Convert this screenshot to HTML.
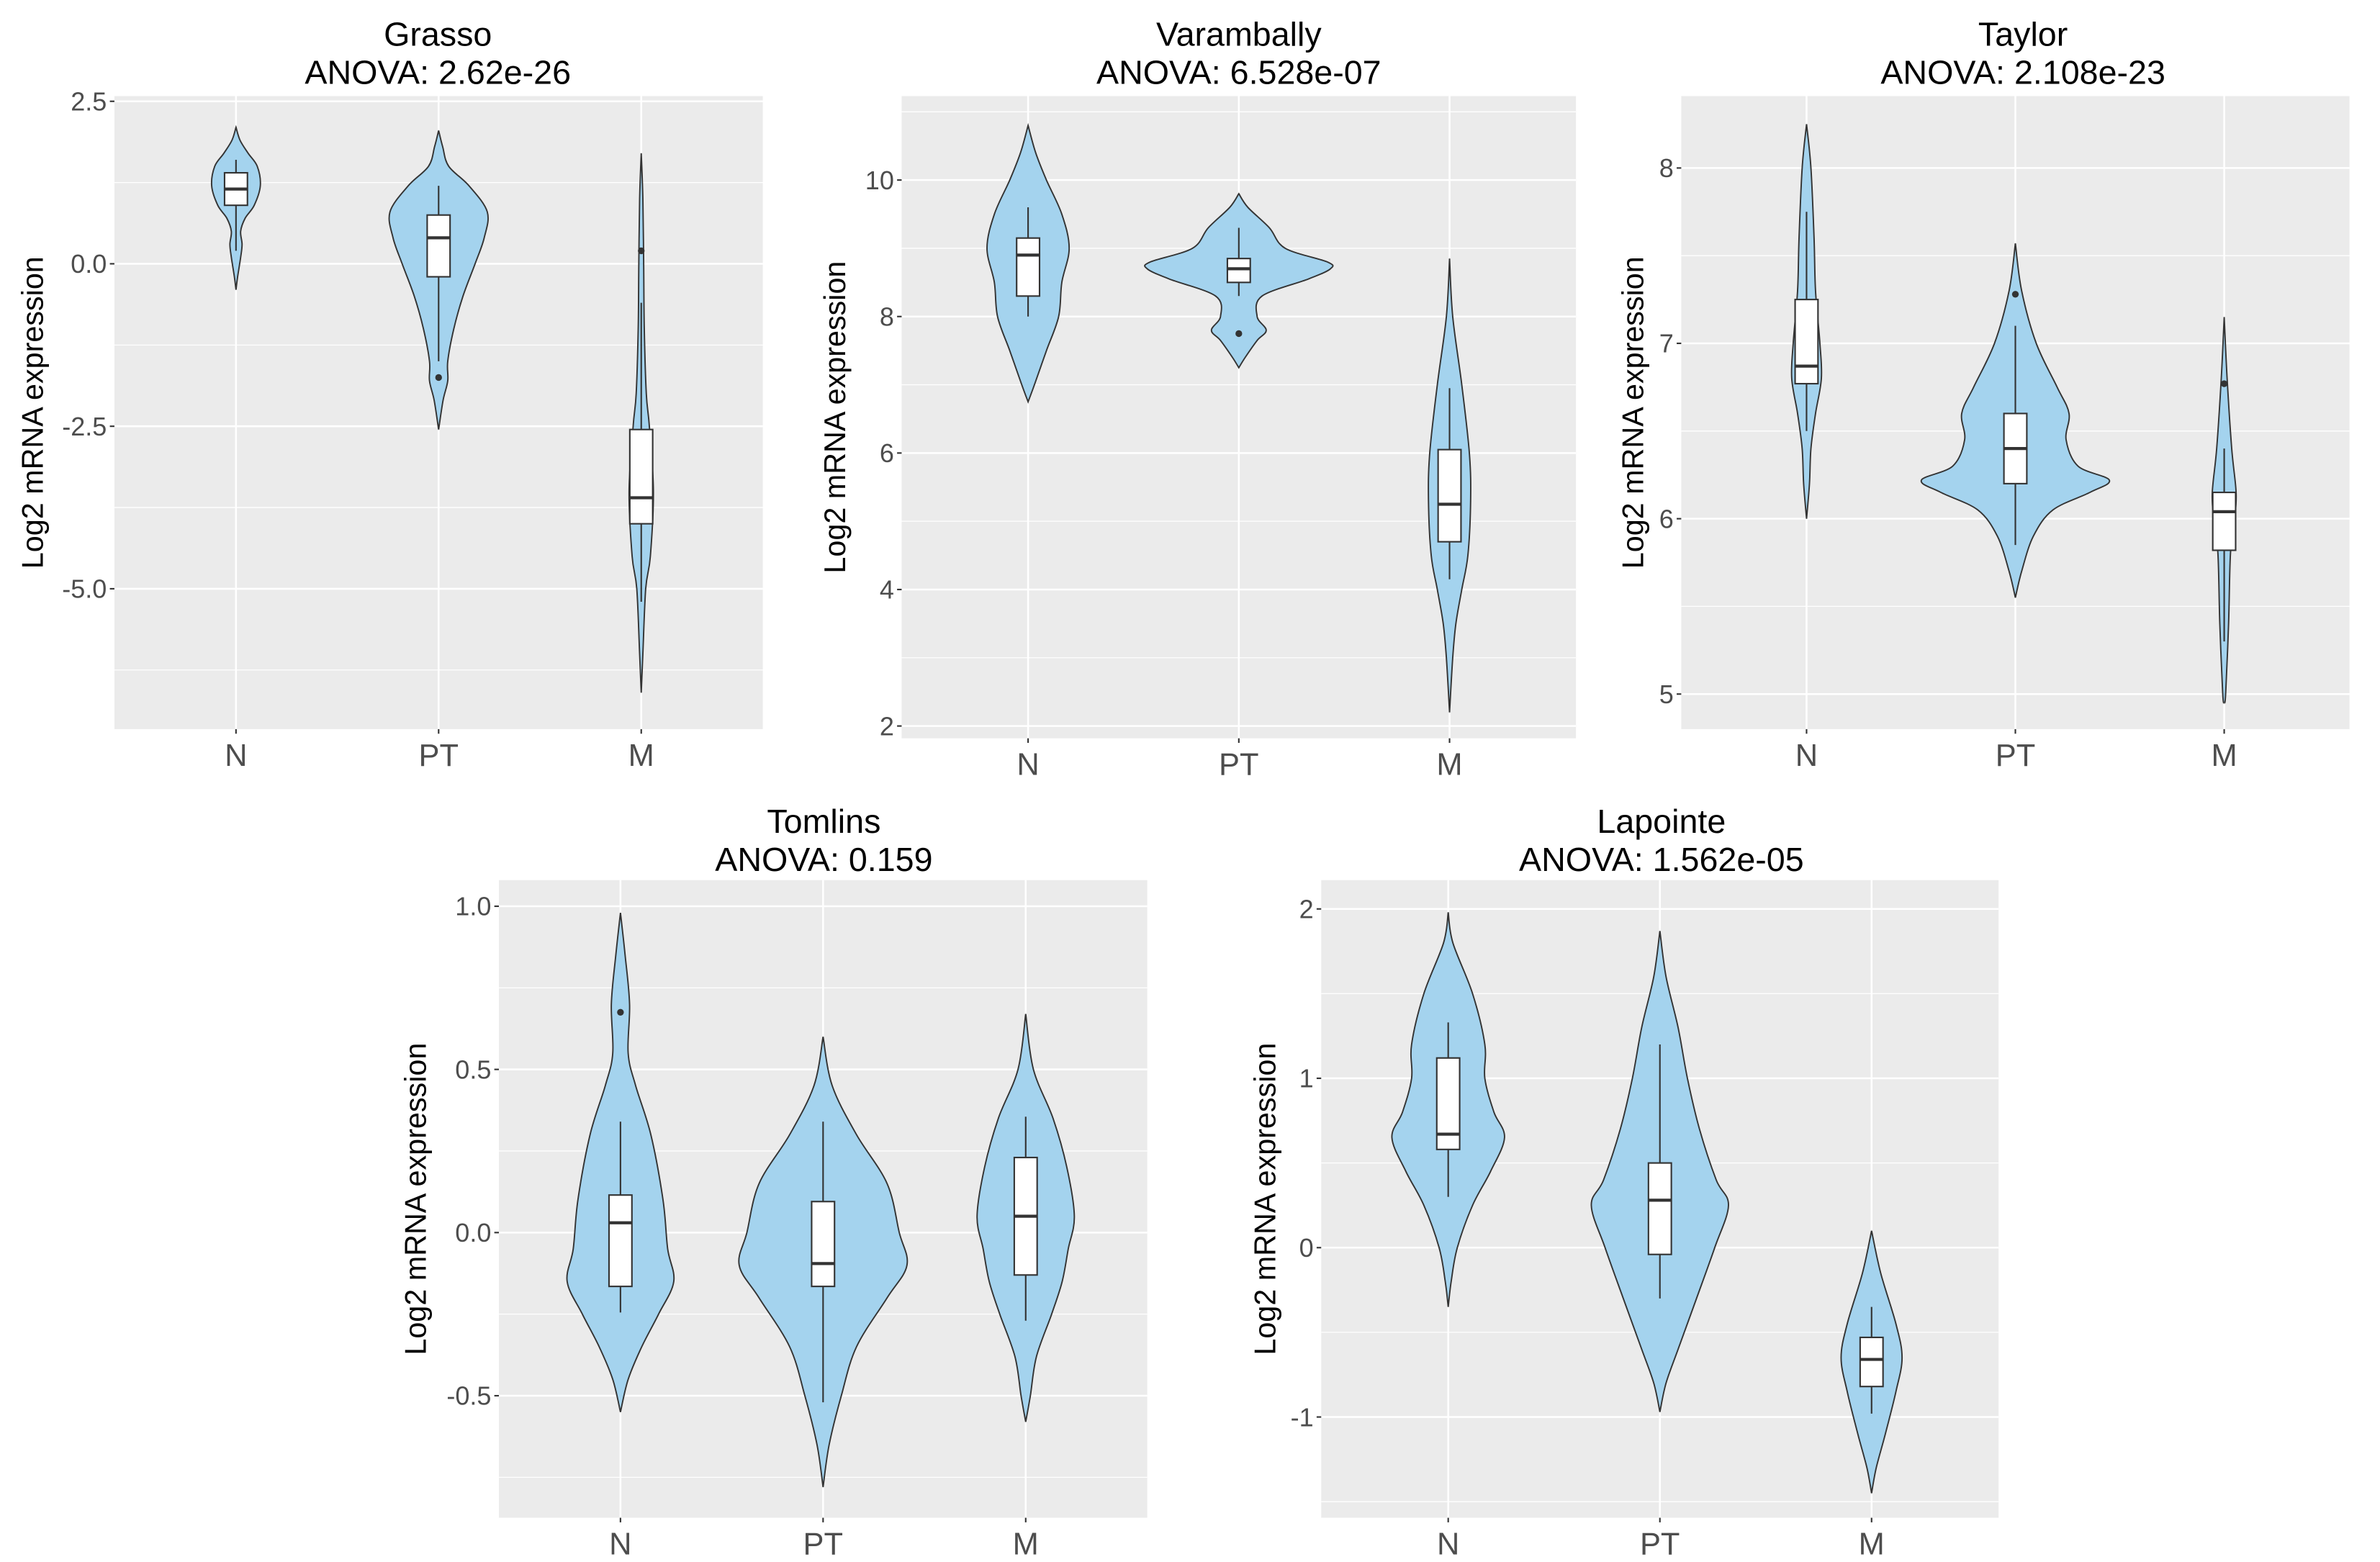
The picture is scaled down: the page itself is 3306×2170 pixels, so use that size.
<!DOCTYPE html>
<html><head><meta charset="utf-8"><style>
html,body{margin:0;padding:0;background:#fff;}
svg{display:block;font-family:"Liberation Sans",Arial,sans-serif;}
</style></head><body>
<svg id="fig" width="3306" height="2170" viewBox="0 0 1560 1024" preserveAspectRatio="none" xmlns="http://www.w3.org/2000/svg"></svg>
<script>
const categories = ["N","PT","M"];
const titles = ["Grasso","Varambally","Taylor","Tomlins","Lapointe"];
const anovaLabels = ["ANOVA: 2.62e-26","ANOVA: 6.528e-07","ANOVA: 2.108e-23","ANOVA: 0.159","ANOVA: 1.562e-05"];
const yDomains = [[-7.16,2.58],[1.82,11.23],[4.80,8.41],[-0.874,1.08],[-1.595,2.17]];
const yTickValues = [[-5,-2.5,0,2.5],[2,4,6,8,10],[5,6,7,8],[-0.5,0,0.5,1.0],[-1,0,1,2]];
const yTickLabels = [["-5.0","-2.5","0.0","2.5"],["2","4","6","8","10"],["5","6","7","8"],["-0.5","0.0","0.5","1.0"],["-1","0","1","2"]];
const yMinorValues = [[-6.25,-3.75,-1.25,1.25],[3,5,7,9,11],[5.5,6.5,7.5],[-0.75,-0.25,0.25,0.75],[-1.5,-0.5,0.5,1.5]];
// violin density profiles: [value, relative half-width (fraction of category spacing)]
const violins = [
 [ [[2.1,0],[1.9,.02],[1.7,.06],[1.5,.105],[1.2,.12],[0.9,.09],[0.7,.045],[0.5,.023],[0.3,.03],[0.1,.023],[-0.2,.008],[-0.4,0]],
   [[2.05,0],[1.8,.02],[1.5,.05],[1.2,.15],[0.8,.24],[0.4,.225],[0,.18],[-0.5,.12],[-1,.075],[-1.5,.045],[-1.8,.045],[-2.1,.022],[-2.55,0]],
   [[1.7,0],[1,.008],[0,.012],[-1,.015],[-2,.025],[-2.5,.04],[-3.5,.06],[-4.5,.045],[-5,.022],[-6,.008],[-6.6,0]] ],
 [ [[10.8,0],[10.4,.036],[10,.087],[9.5,.16],[9,.195],[8.5,.16],[8,.145],[7.5,.087],[7,.03],[6.75,0]],
   [[9.8,0],[9.6,.043],[9.3,.145],[9.0,.22],[8.8,.42],[8.7,.435],[8.55,.33],[8.3,.11],[8.0,.087],[7.8,.13],[7.65,.087],[7.4,.03],[7.25,0]],
   [[8.85,0],[8,.015],[7,.058],[6,.094],[5.3,.1],[4.5,.087],[4,.058],[3.5,.03],[3,.015],[2.2,0]] ],
 [ [[8.25,0],[8.0,.021],[7.6,.036],[7.3,.043],[7.0,.064],[6.8,.071],[6.6,.043],[6.4,.021],[6.2,.014],[6.0,0]],
   [[7.57,0],[7.3,.03],[7.0,.1],[6.75,.2],[6.6,.257],[6.45,.243],[6.3,.3],[6.22,.45],[6.15,.357],[6.05,.18],[5.9,.086],[5.7,.03],[5.55,0]],
   [[7.15,0],[6.8,.014],[6.4,.036],[6.15,.057],[6.0,.05],[5.8,.03],[5.4,.021],[5.0,.007],[4.95,0]] ],
 [ [[0.98,0],[0.85,.023],[0.7,.045],[0.55,.038],[0.45,.075],[0.3,.15],[0.1,.21],[-0.05,.233],[-0.15,.263],[-0.25,.188],[-0.35,.105],[-0.45,.038],[-0.55,0]],
   [[0.6,0],[0.45,.045],[0.3,.165],[0.15,.316],[0.0,.376],[-0.1,.414],[-0.2,.316],[-0.35,.165],[-0.5,.09],[-0.65,.03],[-0.78,0]],
   [[0.67,0],[0.5,.038],[0.35,.135],[0.2,.203],[0.05,.24],[-0.05,.21],[-0.15,.18],[-0.25,.128],[-0.38,.053],[-0.5,.023],[-0.58,0]] ],
 [ [[1.98,0],[1.8,.022],[1.5,.115],[1.2,.173],[1.0,.173],[0.8,.216],[0.65,.266],[0.45,.2],[0.25,.115],[0,.043],[-0.2,.014],[-0.35,0]],
   [[1.87,0],[1.6,.029],[1.3,.086],[1.0,.13],[0.7,.187],[0.4,.266],[0.25,.324],[0,.259],[-0.3,.173],[-0.6,.086],[-0.8,.029],[-0.97,0]],
   [[0.1,0],[-0.15,.043],[-0.45,.115],[-0.65,.144],[-0.85,.115],[-1.1,.065],[-1.3,.022],[-1.45,0]] ]
];
// box stats: [whiskerLow, q1, median, q3, whiskerHigh]
const boxStats = [
 [[0.2,0.9,1.15,1.4,1.6],[-1.5,-0.2,0.4,0.75,1.2],[-5.2,-4.0,-3.6,-2.55,-0.6]],
 [[8.0,8.3,8.9,9.15,9.6],[8.3,8.5,8.7,8.85,9.3],[4.15,4.7,5.25,6.05,6.95]],
 [[6.5,6.77,6.87,7.25,7.75],[5.85,6.2,6.4,6.6,7.1],[5.3,5.82,6.04,6.15,6.4]],
 [[-0.245,-0.165,0.03,0.115,0.34],[-0.52,-0.165,-0.095,0.095,0.34],[-0.27,-0.13,0.05,0.23,0.355]],
 [[0.3,0.58,0.67,1.12,1.33],[-0.3,-0.04,0.28,0.5,1.2],[-0.98,-0.82,-0.66,-0.53,-0.35]]
];
const outliers = [[[],[-1.75],[0.2]],[[],[7.75],[]],[[],[7.28],[6.77]],[[0.675],[],[]],[[],[],[]]];

const panels = [
 {x0:75,x1:500,y0:63,y1:478,tx:287,ty:22,yt:53},
 {x0:591,x1:1033,y0:63,y1:484,tx:812,ty:22,yt:43},
 {x0:1102,x1:1540,y0:63,y1:478,tx:1326,ty:22,yt:31},
 {x0:327,x1:752,y0:577,y1:995,tx:540,ty:538,yt:54},
 {x0:866,x1:1310,y0:577,y1:995,tx:1089,ty:538,yt:36}
];
const NS="http://www.w3.org/2000/svg";
const svg=document.getElementById('fig');
function mk(tag,attrs,parent){const e=document.createElementNS(NS,tag);for(const k in attrs)e.setAttribute(k,attrs[k]);(parent||svg).appendChild(e);return e;}
function smooth(pts){let d="M"+pts[0][0].toFixed(2)+","+pts[0][1].toFixed(2);
 for(let i=0;i<pts.length-1;i++){const p0=pts[Math.max(0,i-1)],p1=pts[i],p2=pts[i+1],p3=pts[Math.min(pts.length-1,i+2)];
  const c1=[p1[0]+(p2[0]-p0[0])/6,p1[1]+(p2[1]-p0[1])/6],c2=[p2[0]-(p3[0]-p1[0])/6,p2[1]-(p3[1]-p1[1])/6];
  d+="C"+c1[0].toFixed(2)+","+c1[1].toFixed(2)+" "+c2[0].toFixed(2)+","+c2[1].toFixed(2)+" "+p2[0].toFixed(2)+","+p2[1].toFixed(2);}
 return d;}

panels.forEach((P,pi)=>{
 const g=mk('g',{});
 
 
 const [dmin,dmax]=yDomains[pi];
 const y=v=>P.y1-(v-dmin)/(dmax-dmin)*(P.y1-P.y0);
 const band=(P.x1-P.x0)/3.2;
 const x=i=>P.x0+band*(i+0.6);
 const bg=mk('rect',{x:P.x0,y:P.y0,width:P.x1-P.x0,height:P.y1-P.y0,fill:'#EBEBEB'},g);
 
 
 yMinorValues[pi].forEach(v=>{const l=mk('line',{x1:P.x0,x2:P.x1,y1:y(v),y2:y(v),stroke:'#fff','stroke-width':0.6},g);
  
  });
 yTickValues[pi].forEach((v,k)=>{const l=mk('line',{x1:P.x0,x2:P.x1,y1:y(v),y2:y(v),stroke:'#fff','stroke-width':1.2},g);
  
  
  mk('line',{x1:P.x0-3,x2:P.x0,y1:y(v),y2:y(v),stroke:'#333','stroke-width':1},g);
  const t=mk('text',{x:P.x0-5,y:y(v)+6,'text-anchor':'end','font-size':17,fill:'#4D4D4D'},g);t.textContent=yTickLabels[pi][k];
  
  });
 categories.forEach((c,i)=>{const l=mk('line',{x1:x(i),x2:x(i),y1:P.y0,y2:P.y1,stroke:'#fff','stroke-width':1.2},g);
  
  
  mk('line',{x1:x(i),x2:x(i),y1:P.y1,y2:P.y1+3,stroke:'#333','stroke-width':1},g);
  const t=mk('text',{x:x(i),y:P.y1+24,'text-anchor':'middle','font-size':20.5,fill:'#4D4D4D'},g);t.textContent=c;
  
  });
 categories.forEach((c,i)=>{
  const prof=violins[pi][i];
  const right=prof.map(p=>[x(i)+p[1]*band,y(p[0])]);
  const left=prof.slice().reverse().map(p=>[x(i)-p[1]*band,y(p[0])]);
  const d=smooth(right)+smooth(left).replace(/^M/,'L')+"Z";
  const v=mk('path',{d:d,fill:'#A4D3EE',stroke:'#333','stroke-width':0.9},g);
  
  
  const b=boxStats[pi][i];const hw=7.5;
  const wl=mk('line',{x1:x(i),x2:x(i),y1:y(b[0]),y2:y(b[4]),stroke:'#333','stroke-width':1},g);
  
  
  const r=mk('rect',{x:x(i)-hw,y:y(b[3]),width:2*hw,height:y(b[1])-y(b[3]),fill:'#fff',stroke:'#333','stroke-width':1},g);
  
  
  const m=mk('line',{x1:x(i)-hw,x2:x(i)+hw,y1:y(b[2]),y2:y(b[2]),stroke:'#333','stroke-width':2},g);
  
  
  outliers[pi][i].forEach(o=>{const pt=mk('circle',{cx:x(i),cy:y(o),r:2.2,fill:'#333'},g);
   
   });
 });
 const t1=mk('text',{x:P.tx,y:P.ty+8,'text-anchor':'middle','font-size':22,fill:'#000'},g);t1.textContent=titles[pi];
 
 
 const t2=mk('text',{x:P.tx,y:P.ty+33,'text-anchor':'middle','font-size':22,fill:'#000'},g);t2.textContent=anovaLabels[pi];
 
 
 const yc=(P.y0+P.y1)/2, xl=P.x0-P.yt+6;
 const ya=mk('text',{x:xl,y:yc,'text-anchor':'middle','font-size':19.5,fill:'#000',transform:'rotate(-90 '+xl+' '+yc+')'},g);ya.textContent='Log2 mRNA expression';
 
 
});
</script>
</body></html>
